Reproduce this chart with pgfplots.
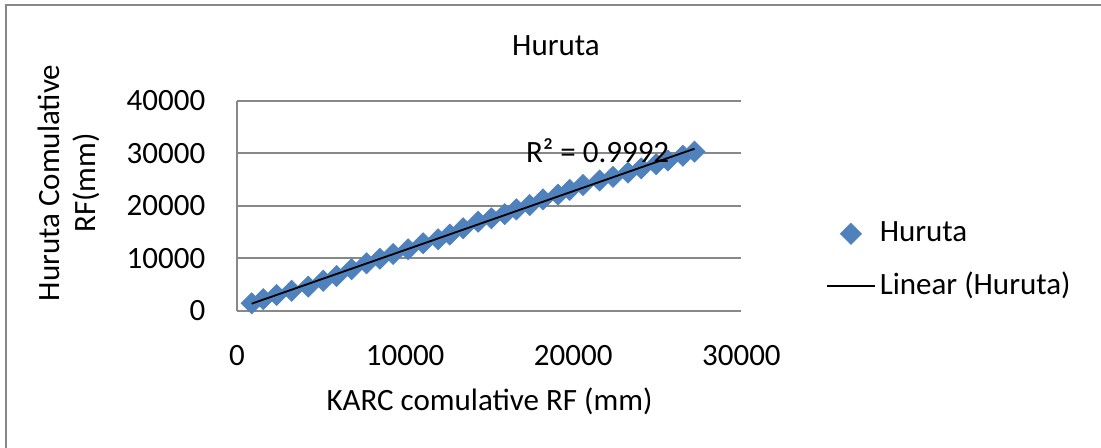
\documentclass[border=0pt]{standalone}
\usepackage{pgfplots}
\usepackage{pgfplotstable}
\pgfplotsset{compat=1.18}
\usepackage{fontspec}
\setmainfont{Carlito}

\definecolor{excelblue}{HTML}{4F81BD}
\definecolor{gridgray}{HTML}{888888}

\pgfplotsset{
  marklegend/.style={legend image code/.code={\draw[##1] plot coordinates {(12pt,0pt)};}},
  linelegend/.style={legend image code/.code={\draw[##1] (0pt,0pt) -- (24pt,0pt);}},
}

% KARC vs Huruta cumulative rainfall (mm)
\pgfplotstableread{
x y
873 1410
1564 2200
2357 3000
3248 3800
4238 4570
5129 5700
5922 6600
6813 7900
7704 9030
8497 9900
9289 10800
10180 11700
11071 12840
11963 13600
12656 14500
13448 15700
14340 16950
15132 17600
15924 18400
16617 19300
17410 20130
18202 21200
19093 22100
19786 23000
20578 23940
21569 24800
22361 25500
23252 26300
24044 27120
24935 27900
25628 28600
26520 29500
27213 30290
}\huruta

\begin{document}
\fontsize{15.5pt}{18pt}\selectfont
\begin{tikzpicture}[x=0.5pt,y=0.5pt]
\path[use as bounding box] (0,0) rectangle (1101,448);
% chart border
\draw[gridgray,line width=1pt] (6,-10) -- (6,443) -- (1120,443);

\begin{axis}[
  at={(118.5pt,68.65pt)}, anchor=south west,
  scale only axis, width=252.2pt, height=105pt,
  xmin=0, xmax=30000, ymin=0, ymax=40000,
  xtick={0,10000,20000,30000}, ytick={0,10000,20000,30000,40000},
  scaled ticks=false,
  /pgf/number format/1000 sep={},
  /pgf/number format/assume math mode=true,
  axis x line=bottom, axis y line=left,
  axis line style={-, gridgray, line width=0.9pt},
  major tick length=0pt,
  ymajorgrids, grid style={gridgray, line width=0.9pt},
  xticklabel style={yshift=-12pt},
  yticklabel style={xshift=-10.5pt},
  clip=false, clip marker paths=true,
  legend style={at={(1.155,0.239)}, anchor=west, draw=none, fill=none,
    row sep=9pt, font=\fontsize{15.5pt}{18pt}\selectfont},
  legend cell align=left,
]
\addplot[only marks, mark=square*, mark size=3.7pt,
  mark options={rotate=45, fill=excelblue, draw=excelblue}, marklegend]
  table[x=x,y=y] {\huruta};
\addlegendentry{Huruta}
\addplot[black, line width=0.9pt, mark=none, linelegend]
  table[x=x, y={create col/linear regression={y=y}}] {\huruta};
\addlegendentry{Linear (Huruta)}
\node at (axis cs:21450,30400) {R² = 0.9992};
\end{axis}

\node at (556,402) {Huruta};
\node at (489.5,47) {KARC comulative RF (mm)};
\node[rotate=90, align=center] at (69,265) {Huruta Comulative\\RF(mm)};
\end{tikzpicture}
\end{document}
